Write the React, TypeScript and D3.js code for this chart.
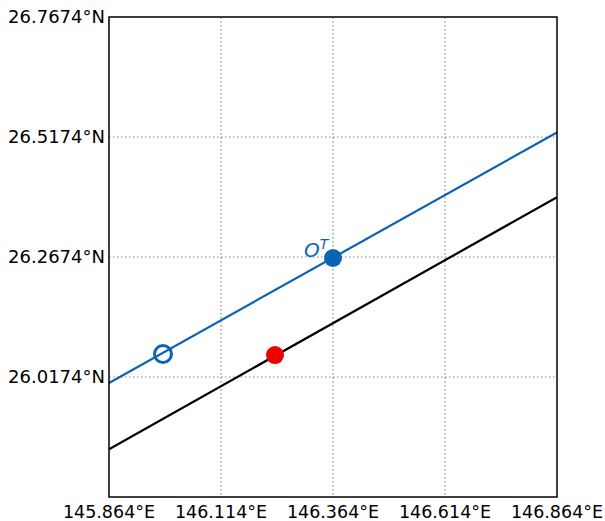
import React from "react";
import * as d3 from "d3";

const xTicks = [145.864, 146.114, 146.364, 146.614, 146.864];
const yTicks = [25.7674, 26.0174, 26.2674, 26.5174, 26.7674];
const xTickLabels = ["145.864°E", "146.114°E", "146.364°E", "146.614°E", "146.864°E"];
const yTickLabels = ["", "26.0174°N", "26.2674°N", "26.5174°N", "26.7674°N"];

const blueLineLon = [145.864, 146.864];
const blueLineLat = [26.005, 26.527];
const blackLineLon = [145.864, 146.864];
const blackLineLat = [25.867, 26.392];

const openPoint = [145.9845, 26.0653];
const bluePoint = [146.364, 26.2653];
const redPoint = [146.2345, 26.0632];

export default function App() {
  const W = 605, H = 521;
  const left = 109, right = 557, top = 17, bottom = 497;
  const x = d3.scaleLinear().domain([145.864, 146.864]).range([left, right]);
  const y = d3.scaleLinear().domain([25.7674, 26.7674]).range([bottom, top]);
  const line = d3.line<[number, number]>().x(d => x(d[0])).y(d => y(d[1]));
  const blue = "#0a64b4";
  const font = "DejaVu Sans, sans-serif";
  return (
    <svg width={W} height={H} style={{ position: "absolute", left: 0, top: 0 }}>
      <rect x={0} y={0} width={W} height={H} fill="white" />
      {xTicks.slice(1, -1).map((t, i) => (
        <line key={"gx" + i} x1={x(t)} x2={x(t)} y1={top} y2={bottom} stroke="#888" strokeWidth={1.2} strokeDasharray="1.5,2.5" />
      ))}
      {yTicks.slice(1, -1).map((t, i) => (
        <line key={"gy" + i} x1={left} x2={right} y1={y(t)} y2={y(t)} stroke="#888" strokeWidth={1.2} strokeDasharray="1.5,2.5" />
      ))}
      <defs>
        <clipPath id="clip"><rect x={left} y={top} width={right - left} height={bottom - top} /></clipPath>
      </defs>
      <g clipPath="url(#clip)">
        <path d={line(blueLineLon.map((v, i) => [v, blueLineLat[i]]) as any) || ""} stroke={blue} strokeWidth={2.2} fill="none" />
        <path d={line(blackLineLon.map((v, i) => [v, blackLineLat[i]]) as any) || ""} stroke="black" strokeWidth={2.2} fill="none" />
      </g>
      <circle cx={x(openPoint[0])} cy={y(openPoint[1])} r={8.5} fill="none" stroke={blue} strokeWidth={3} />
      <circle cx={x(bluePoint[0])} cy={y(bluePoint[1])} r={9} fill={blue} />
      <circle cx={x(redPoint[0])} cy={y(redPoint[1])} r={9} fill="#ee0000" />
      <text x={x(bluePoint[0]) - 29} y={y(bluePoint[1]) - 1} fill={blue} fontFamily={font} fontStyle="italic" fontSize={20}>
        O<tspan dy={-8} fontSize={14}>T</tspan>
      </text>
      <rect x={left} y={top} width={right - left} height={bottom - top} fill="none" stroke="black" strokeWidth={1.5} />
      {xTicks.map((t, i) => (
        <text key={"xl" + i} x={x(t)} y={bottom + 21} textAnchor="middle" fontFamily={font} fontSize={17.5} fill="black">{xTickLabels[i]}</text>
      ))}
      {yTicks.map((t, i) => (
        <text key={"yl" + i} x={left - 4} y={y(t) + 6} textAnchor="end" fontFamily={font} fontSize={18} fill="black">{yTickLabels[i]}</text>
      ))}
    </svg>
  );
}
